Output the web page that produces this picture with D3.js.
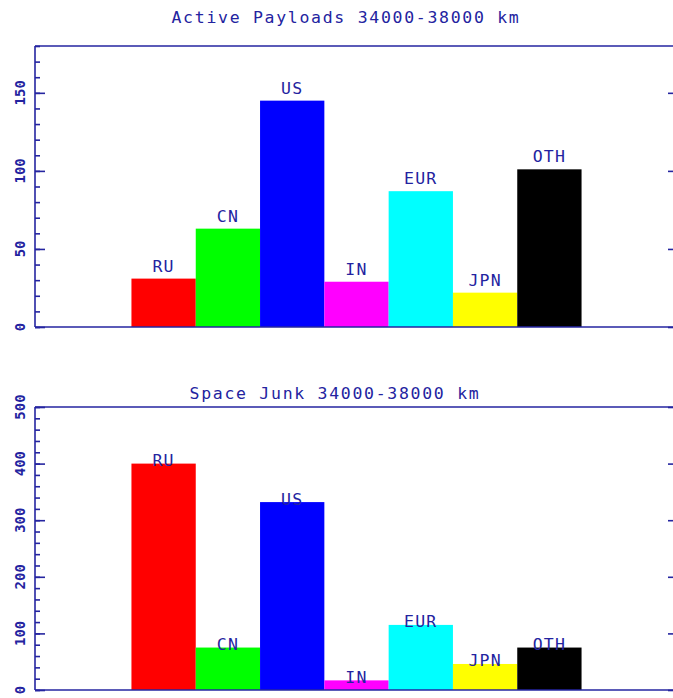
<!DOCTYPE html>
<html><head><meta charset="utf-8">
<script src="https://cdn.jsdelivr.net/npm/d3@7"></script>
<style>body{margin:0;background:#fff}svg{display:block}</style>
</head><body>
<script>
const categories = ["RU","CN","US","IN","EUR","JPN","OTH"];
const colors = ["#ff0000","#00ff00","#0000ff","#ff00ff","#00ffff","#ffff00","#000000"];
const activeValues = [31, 63, 145, 29, 87, 22, 101];
const junkValues = [400, 75, 332, 17, 115, 46, 75];
const activeTicks = [0, 50, 100, 150];
const junkTicks = [0, 100, 200, 300, 400, 500];
const titles = ["Active Payloads 34000-38000 km", "Space Junk 34000-38000 km"];

const W = 673, H = 698;
const axisColor = "#2525a0", textColor = "#2323a0";
const svg = d3.select("body").append("svg").attr("width", W).attr("height", H);

const x = d3.scaleLinear().domain([0, 10]).range([35, 678]);

const panels = [
  {title: titles[0], titleX: 346, titleY: 23, vals: activeValues, ticks: activeTicks, max: 180, minor: 10, top: 46, bottom: 327, labOff: -7},
  {title: titles[1], titleX: 335, titleY: 399, vals: junkValues, ticks: junkTicks, max: 500, minor: 20, top: 407, bottom: 690, labOff: 2.5}
];

const fontTxt = "'DejaVu Sans Mono', monospace";

panels.forEach(p => {
  const y = d3.scaleLinear().domain([0, p.max]).range([p.bottom, p.top]);
  const g = svg.append("g");
  g.append("text").attr("x", p.titleX).attr("y", p.titleY).attr("text-anchor", "middle")
    .attr("font-family", fontTxt).attr("font-size", 16.5).attr("letter-spacing", 1.7)
    .attr("fill", textColor).text(p.title);

  // bars
  g.selectAll("rect.bar").data(p.vals).join("rect")
    .attr("x", (d, i) => x(i + 1.5)).attr("width", (d, i) => x(i + 2.5) - x(i + 1.5))
    .attr("y", d => y(d)).attr("height", d => y(0) - y(d))
    .attr("fill", (d, i) => colors[i]);

  // frame lines (top & bottom)
  g.append("line").attr("x1", x(0)).attr("x2", x(10)).attr("y1", y(p.max)).attr("y2", y(p.max)).attr("stroke", axisColor).attr("stroke-width", 1.6);
  g.append("line").attr("x1", x(0)).attr("x2", x(10)).attr("y1", y(0)).attr("y2", y(0)).attr("stroke", axisColor).attr("stroke-width", 1.6);

  // left axis
  const minorVals = d3.range(0, p.max + 0.001, p.minor);
  const left = d3.axisRight(y).tickValues(minorVals).tickSize(5).tickFormat("");
  const lg = g.append("g").attr("transform", `translate(${x(0)},0)`).call(left);
  lg.select(".domain").remove();
  lg.selectAll("line").attr("stroke", axisColor).attr("stroke-width", 1.6);
  const leftMaj = d3.axisRight(y).tickValues(p.ticks).tickSize(10).tickFormat("");
  const lm = g.append("g").attr("transform", `translate(${x(0)},0)`).call(leftMaj);
  lm.select(".domain").remove();
  lm.selectAll("line").attr("stroke", axisColor).attr("stroke-width", 1.6);
  g.append("line").attr("x1", x(0)).attr("x2", x(0)).attr("y1", y(0)).attr("y2", y(p.max)).attr("stroke", axisColor).attr("stroke-width", 1.6);

  // right axis
  const right = d3.axisLeft(y).tickValues(p.ticks).tickSize(10).tickFormat("");
  const rg = g.append("g").attr("transform", `translate(${x(10)},0)`).call(right);
  rg.select(".domain").remove();
  rg.selectAll("line").attr("stroke", axisColor).attr("stroke-width", 1.6);

  // rotated tick labels
  g.selectAll("text.tl").data(p.ticks).join("text").attr("class", "tl")
    .attr("transform", d => `translate(24.5,${y(d)}) rotate(-90)`)
    .attr("text-anchor", "middle").attr("font-family", fontTxt).attr("font-weight", "bold")
    .attr("font-size", 14).attr("fill", textColor).text(d => d);

  // bar labels
  g.selectAll("text.bl").data(p.vals).join("text").attr("class", "bl")
    .attr("x", (d, i) => x(i + 2)).attr("y", d => y(d) + p.labOff)
    .attr("text-anchor", "middle").attr("font-family", fontTxt).attr("font-size", 16.5)
    .attr("letter-spacing", 1.2).attr("fill", textColor).text((d, i) => categories[i]);
});
</script>
</body></html>
